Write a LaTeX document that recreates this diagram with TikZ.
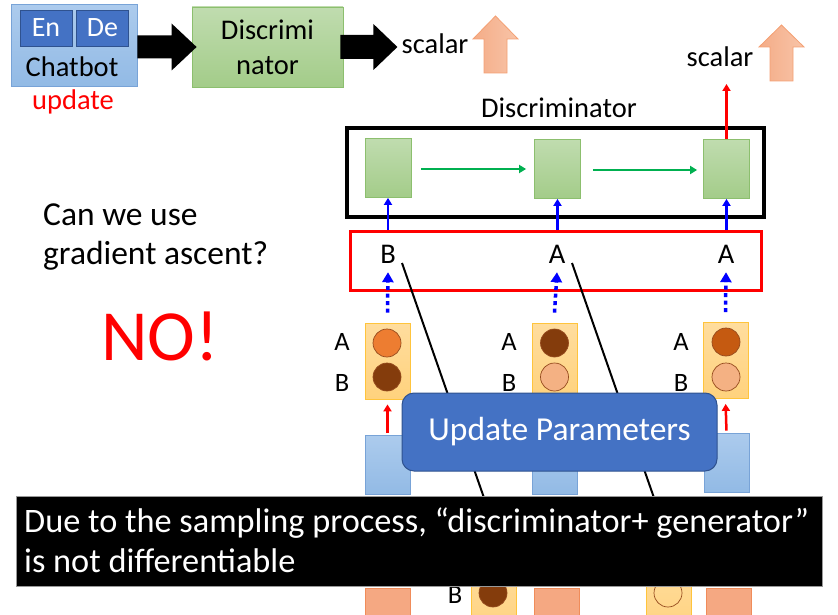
\documentclass[tikz,border=0pt]{standalone}
\usepackage{fontspec}
\setmainfont{Carlito}
\usetikzlibrary{arrows.meta,calc}

\definecolor{chatTop}{RGB}{172,203,237}
\definecolor{chatBot}{RGB}{146,186,229}
\definecolor{chatEdge}{RGB}{120,163,215}
\definecolor{encFill}{RGB}{68,114,196}
\definecolor{encEdge}{RGB}{47,82,143}
\definecolor{grTop}{RGB}{192,220,175}
\definecolor{grBot}{RGB}{163,204,137}
\definecolor{grEdge}{RGB}{140,191,110}
\definecolor{yTop}{RGB}{255,221,158}
\definecolor{yBot}{RGB}{255,210,125}
\definecolor{yEdge}{RGB}{255,196,60}
\definecolor{cOrange}{RGB}{237,125,49}
\definecolor{cBrown}{RGB}{132,60,12}
\definecolor{cRust}{RGB}{197,90,17}
\definecolor{cSalmon}{RGB}{244,177,131}
\definecolor{cEdge}{RGB}{150,75,30}
\definecolor{salFill}{RGB}{245,168,130}
\definecolor{salEdge}{RGB}{240,140,90}
\definecolor{upL}{RGB}{244,172,135}
\definecolor{upR}{RGB}{248,196,168}
\definecolor{upEdge}{RGB}{244,160,115}
\definecolor{arrBlue}{RGB}{0,0,255}

\begin{document}
\begin{tikzpicture}[x=1pt,y=-1pt,
  txt/.style={inner sep=0pt, font=\fontsize{28.5}{35}\selectfont},
  bigtxt/.style={inner sep=0pt, font=\fontsize{33.5}{41}\selectfont},
  chatbox/.style={draw=chatEdge, line width=0.8pt, top color=chatTop, bottom color=chatBot, minimum width=126, minimum height=82, inner sep=0pt},
  encbox/.style={draw=encEdge, line width=0.8pt, fill=encFill, text=white, minimum width=52, minimum height=36, inner sep=0pt, font=\fontsize{28}{34}\selectfont},
  gbig/.style={draw=grEdge, line width=0.8pt, top color=grTop, bottom color=grBot, minimum width=151, minimum height=80, inner sep=0pt, align=center, font=\fontsize{28.5}{35}\selectfont},
  gsmall/.style={draw=grEdge, line width=0.8pt, top color=grTop, bottom color=grBot, minimum width=46, minimum height=59, inner sep=0pt},
  outerbox/.style={draw=black, line width=3.5pt, minimum width=417, minimum height=89, inner sep=0pt},
  selbox/.style={draw=red, line width=3pt, minimum width=411, minimum height=59, inner sep=0pt},
  ybox/.style={draw=yEdge, line width=0.8pt, top color=yTop, bottom color=yBot, minimum width=45, minimum height=76, inner sep=0pt},
  bluebox/.style={draw=chatEdge, line width=0.8pt, top color=chatTop, bottom color=chatBot, minimum width=45, minimum height=59, inner sep=0pt},
  salbox/.style={draw=salEdge, line width=0.8pt, fill=salFill, minimum width=45, minimum height=44, inner sep=0pt},
  circ/.style={circle, draw=cEdge, line width=0.7pt, minimum size=28, inner sep=0pt},
  updbox/.style={draw=encEdge, line width=1pt, fill=encFill, rounded corners=12pt, minimum width=315, minimum height=78, inner sep=0pt, text=white, font=\fontsize{33.5}{41}\selectfont},
  notebox/.style={draw=gray!80, line width=1pt, fill=black, minimum width=806, minimum height=90, inner sep=0pt},
  uparr/.style={draw=upEdge, line width=0.8pt, left color=upL, right color=upR},
  bluearr/.style={draw=arrBlue, line width=2.5pt, -{Triangle[width=8pt,length=7pt]}},
  dotarr/.style={draw=arrBlue, line width=3.5pt, dash pattern=on 4pt off 3.5pt, -{Triangle[width=11pt,length=10pt]}},
  redarr/.style={draw=red, line width=2.5pt, -{Triangle[width=8pt,length=7pt]}},
  greenarr/.style={draw={rgb,255:red,0;green,176;blue,80}, line width=2.5pt, -{Triangle[width=8pt,length=7pt]}},
]
\useasboundingbox (0,0) rectangle (838,615);
\begin{scope}
\clip (0,0) rectangle (838,615);

% ---------- top row: chatbot -> discriminator -> scalar ----------
\node[chatbox] (chat) at (74,45.5) {};
\node[encbox] (en) at (46,28) {En};
\node[encbox] (de) at (102.5,28) {De};
\node[txt, anchor=base] (chatlbl) at (72,77) {Chatbot};
\node[txt, anchor=base, text=red] (updlbl) at (73,110) {update};
\node[gbig] (disc) at (267.5,47) {Discrimi\\nator};
\node[txt, anchor=base] (sc1) at (435,54) {scalar};

% block arrows
\coordinate (tip1) at ($(disc.west)+(5,0)$);
\coordinate (tail1) at (chat.east |- tip1);
\fill[black] ($(tail1)+(0,-11.5)$) -- ($(tip1)+(-25,-11.5)$) -- ($(tip1)+(-25,-23.5)$)
  -- (tip1) -- ($(tip1)+(-25,23.5)$) -- ($(tip1)+(-25,11.5)$) -- ($(tail1)+(0,11.5)$) -- cycle;
\coordinate (tip2) at ($(disc.east)+(54,0)$);
\fill[black] ($(disc.east)+(-3,-12)$) -- ($(tip2)+(-24,-12)$) -- ($(tip2)+(-24,-23)$)
  -- (tip2) -- ($(tip2)+(-24,23)$) -- ($(tip2)+(-24,12)$) -- ($(disc.east)+(-3,12)$) -- cycle;

% orange "increase" arrows
\path[uparr] (495.5,16) -- (518,39) -- (507,39) -- (507,73) -- (484,73) -- (484,39) -- (473,39) -- cycle;
\path[uparr] (781.5,25) -- (804,47) -- (793,47) -- (793,81) -- (770,81) -- (770,47) -- (759,47) -- cycle;

% ---------- left side question ----------
\node[bigtxt, anchor=base west] (q1) at (43,225) {Can we use};
\node[bigtxt, anchor=base west] (q2) at (43,264) {gradient ascent?};
\node[inner sep=0pt, anchor=base, text=red, font=\fontsize{72}{80}\selectfont] (no) at (160,360) {NO!};

% ---------- discriminator over sampled tokens ----------
\node[txt, anchor=base] (dlabel) at (559,118) {Discriminator};
\node[outerbox] (dbox) at (555.5,172.5) {};
\node[gsmall] (g1) at (388,168) {};
\node[gsmall] (g2) at (557.5,169) {};
\node[gsmall] (g3) at (726.5,169) {};
\draw[greenarr, shorten <=10pt, shorten >=8pt] (g1.east |- 0,169) -- (g2.west |- 0,169);
\draw[greenarr, shorten <=12pt, shorten >=6pt] (g2.east |- 0,170) -- (g3.west |- 0,170);
\coordinate (out) at (726.5,84);
\draw[redarr] (g3.north) -- (out);
\node[txt, anchor=base] (sc2) at (720,67) {scalar};

\node[selbox] (sel) at (555.5,260.5) {};
\node[txt, anchor=base] (l1) at (388,263) {B};
\node[txt, anchor=base] (l2) at (557,263) {A};
\node[txt, anchor=base] (l3) at (726,263) {A};
\draw[bluearr] (g1 |- sel.north) -- (g1.south);
\draw[bluearr] (g2 |- sel.north) -- (g2.south);
\draw[bluearr] (g3 |- sel.north) -- (g3.south);

% sampling strokes
\coordinate (s1a) at (402,263);
\coordinate (s1b) at (490,515);
\coordinate (s2a) at (572,263);
\coordinate (s2b) at (660,515);
\draw[line width=2pt] (s1a) -- (s1b);
\draw[line width=2pt] (s2a) -- (s2b);

% ---------- generator output distributions ----------
\node[ybox] (p1) at (387.5,361) {};
\node[ybox] (p2) at (554.5,361) {};
\node[ybox] (p3) at (725.5,360.5) {};
\node[circ, fill=cOrange] (c1a) at (387,343) {};
\node[circ, fill=cBrown]  (c1b) at (387,377) {};
\node[circ, fill=cBrown]  (c2a) at (554.5,343) {};
\node[circ, fill=cSalmon] (c2b) at (554.5,377) {};
\node[circ, fill=cRust]   (c3a) at (726,342) {};
\node[circ, fill=cSalmon] (c3b) at (726,377) {};
\foreach \i/\x in {1/342,2/509,3/681}{
  \node[inner sep=0pt, anchor=base, font=\fontsize{26.5}{32}\selectfont] (pa\i) at (\x,350) {A};
  \node[inner sep=0pt, anchor=base, font=\fontsize{26.5}{32}\selectfont] (pb\i) at (\x,391) {B};
}
\draw[dotarr] ($(p1.north)+(0,-10)$) -- ($(l1.south)+(0,9)$);
\draw[dotarr] ($(p2.north)+(0,-10)$) -- ($(l2.south)+(0,9)$);
\draw[dotarr] ($(p3.north)+(0,-10)$) -- ($(l3.south)+(0,9)$);

% hidden states
\node[bluebox] (b1) at (387.5,465) {};
\node[bluebox] (b2) at (554.5,465) {};
\node[bluebox] (b3) at (726.5,462.5) {};
\draw[redarr, shorten <=2pt, shorten >=5pt] (b1.north) -- (p1.south);
\draw[redarr, shorten <=2pt, shorten >=5pt] (b2.north) -- (p2.south);
\draw[redarr, shorten <=2pt, shorten >=5pt] (b3.north) -- (p3.south);

\node[updbox] (upd) at (559.5,432) {Update Parameters};

% ---------- next step, partly visible ----------
\node[salbox] (r1) at (388,610) {};
\node[salbox] (r2) at (556.5,610) {};
\node[salbox] (r3) at (728.5,610) {};
\node[ybox] (n1) at (494,599) {};
\node[ybox] (n2) at (668.5,599) {};
\node[circ, fill=cBrown] (nc1) at (493,593) {};
\node[circ] (nc2) at (668,593) {};
\node[inner sep=0pt, anchor=base, font=\fontsize{26.5}{32}\selectfont] (nb) at (455,603) {B};

% ---------- note ----------
\node[notebox] (note) at (419.5,541) {};
\node[inner sep=0pt, anchor=base west, text=white, font=\fontsize{34.3}{41}\selectfont] (note1) at (24,532) {Due to the sampling process, “discriminator+ generator”};
\node[inner sep=0pt, anchor=base west, text=white, font=\fontsize{34.3}{41}\selectfont] (note2) at (24,572) {is not differentiable};
\end{scope}
\end{tikzpicture}
\end{document}
